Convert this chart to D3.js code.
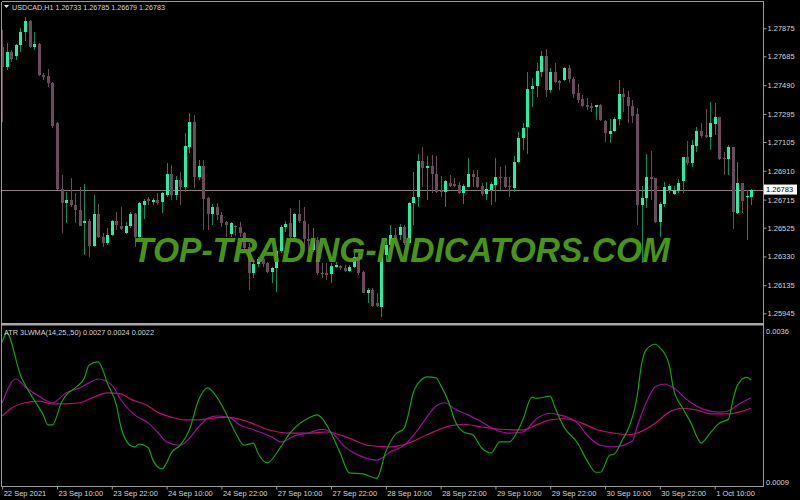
<!DOCTYPE html>
<html><head><meta charset="utf-8">
<script src="https://cdn.jsdelivr.net/npm/d3@7"></script>
<style>html,body{margin:0;padding:0;background:#000;overflow:hidden}svg{display:block}</style>
</head><body>
<svg id="chart" width="800" height="500"></svg>
<script>
// ---------- DATA ----------
const opens = [1.27749,1.27613,1.27714,1.27687,1.27762,1.27849,1.27924,1.27749,1.27769,1.27559,
 1.27552,1.27505,1.27234,1.26787,1.26692,1.26712,1.26678,1.26645,1.26557,1.26570,
 1.26400,1.26618,1.26462,1.26421,1.26475,1.26570,1.26536,1.26489,1.26536,1.26618,
 1.26462,1.26678,1.26719,1.26698,1.26712,1.26698,1.26746,1.26888,1.26746,1.26848,
 1.26801,1.27071,1.27240,1.26868,1.26942,1.26726,1.26618,1.26665,1.26611,1.26563,
 1.26482,1.26536,1.26529,1.26489,1.26394,1.26218,1.26279,1.26313,1.26286,1.26224,
 1.26252,1.26367,1.26529,1.26557,1.26462,1.26618,1.26570,1.26448,1.26374,1.26441,
 1.26218,1.26218,1.26211,1.26259,1.26265,1.26252,1.26231,1.26259,1.26327,1.26224,
 1.26083,1.26103,1.26015,1.25988,1.26340,1.26407,1.26475,1.26475,1.26529,1.26421,
 1.26692,1.26732,1.26976,1.26929,1.26942,1.26888,1.26773,1.26766,1.26828,1.26821,
 1.26814,1.26760,1.26801,1.26888,1.26868,1.26807,1.26753,1.26780,1.26814,1.26868,
 1.26868,1.26807,1.26794,1.26969,1.27132,1.27207,1.27464,1.27484,1.27579,1.27687,
 1.27457,1.27579,1.27518,1.27525,1.27606,1.27532,1.27437,1.27396,1.27355,1.27349,
 1.27342,1.27355,1.27247,1.27159,1.27179,1.27261,1.27430,1.27410,1.27349,1.27295,
 1.26678,1.26726,1.26868,1.26861,1.26563,1.26685,1.26780,1.26753,1.26773,1.26841,
 1.27003,1.26963,1.27078,1.27179,1.27152,1.27139,1.27227,1.27274,1.26997,1.26990,
 1.27071,1.26625,1.26828,1.26732,1.26733];
const highs = [1.27863,1.27776,1.27728,1.27769,1.27877,1.27952,1.27931,1.27849,1.27776,1.27573,
 1.27599,1.27511,1.27240,1.26881,1.26766,1.26861,1.26760,1.26801,1.26821,1.26584,
 1.26746,1.26685,1.26489,1.26523,1.26577,1.26631,1.26665,1.26563,1.26631,1.26625,
 1.26698,1.26719,1.26732,1.26726,1.26760,1.26766,1.26963,1.26949,1.26875,1.26902,
 1.27166,1.27302,1.27288,1.26983,1.26983,1.26732,1.26685,1.26692,1.26631,1.26570,
 1.26563,1.26543,1.26563,1.26496,1.26421,1.26306,1.26327,1.26327,1.26292,1.26259,
 1.26374,1.26543,1.26570,1.26658,1.26625,1.26712,1.26665,1.26550,1.26523,1.26462,
 1.26286,1.26286,1.26286,1.26292,1.26272,1.26272,1.26272,1.26360,1.26354,1.26231,
 1.26116,1.26116,1.26083,1.26360,1.26455,1.26543,1.26523,1.26550,1.26543,1.26698,
 1.26902,1.27024,1.27071,1.27010,1.27017,1.27010,1.26875,1.26848,1.26881,1.26861,
 1.26834,1.26821,1.26997,1.26915,1.26915,1.26828,1.26834,1.26834,1.26997,1.26935,
 1.26949,1.26868,1.27010,1.27173,1.27234,1.27579,1.27538,1.27640,1.27721,1.27735,
 1.27606,1.27640,1.27525,1.27613,1.27626,1.27546,1.27498,1.27423,1.27403,1.27369,
 1.27355,1.27362,1.27254,1.27261,1.27274,1.27525,1.27471,1.27450,1.27389,1.27335,
 1.26807,1.27024,1.27044,1.26861,1.26698,1.26834,1.26821,1.26807,1.26855,1.27003,
 1.27112,1.27119,1.27207,1.27234,1.27328,1.27376,1.27369,1.27274,1.27037,1.27085,
 1.27071,1.26969,1.26828,1.26780,1.26785];
const lows = [1.27240,1.27593,1.27646,1.27660,1.27714,1.27789,1.27742,1.27728,1.27552,1.27525,
 1.27478,1.27200,1.26780,1.26489,1.26557,1.26665,1.26557,1.26536,1.26340,1.26327,
 1.26394,1.26455,1.26394,1.26407,1.26468,1.26509,1.26509,1.26482,1.26523,1.26394,
 1.26455,1.26584,1.26678,1.26678,1.26678,1.26625,1.26732,1.26712,1.26712,1.26678,
 1.26766,1.27031,1.26794,1.26848,1.26509,1.26509,1.26543,1.26577,1.26529,1.26462,
 1.26462,1.26468,1.26462,1.26374,1.26103,1.26184,1.26259,1.26259,1.26218,1.26150,
 1.26089,1.26354,1.26496,1.26441,1.26441,1.26557,1.26394,1.26360,1.26360,1.26204,
 1.26184,1.26170,1.26150,1.26252,1.26238,1.26224,1.26224,1.26252,1.26204,1.26083,
 1.26015,1.25988,1.25988,1.25920,1.26292,1.26374,1.26400,1.26441,1.26407,1.26421,
 1.26543,1.26665,1.26801,1.26712,1.26760,1.26760,1.26732,1.26665,1.26801,1.26801,
 1.26753,1.26685,1.26801,1.26801,1.26794,1.26739,1.26712,1.26678,1.26698,1.26780,
 1.26794,1.26732,1.26766,1.26963,1.27051,1.27024,1.27342,1.27410,1.27546,1.27410,
 1.27437,1.27505,1.27457,1.27518,1.27505,1.27403,1.27369,1.27342,1.27322,1.27308,
 1.27254,1.27247,1.27105,1.27098,1.27173,1.27220,1.27308,1.27234,1.27234,1.26543,
 1.26286,1.26658,1.26712,1.26557,1.26462,1.26665,1.26760,1.26746,1.26760,1.26760,
 1.26949,1.26935,1.27037,1.27132,1.27132,1.27051,1.27152,1.26983,1.26881,1.26881,
 1.26516,1.26618,1.26625,1.26441,1.26679];
const closes = [1.27613,1.27714,1.27667,1.27762,1.27849,1.27924,1.27749,1.27769,1.27559,1.27546,
 1.27505,1.27213,1.26787,1.26692,1.26712,1.26678,1.26645,1.26536,1.26570,1.26400,
 1.26618,1.26462,1.26421,1.26475,1.26570,1.26543,1.26516,1.26536,1.26618,1.26462,
 1.26692,1.26705,1.26705,1.26712,1.26692,1.26760,1.26888,1.26746,1.26848,1.26801,
 1.27078,1.27240,1.26868,1.26942,1.26719,1.26618,1.26665,1.26611,1.26557,1.26543,
 1.26557,1.26529,1.26489,1.26387,1.26218,1.26279,1.26313,1.26279,1.26224,1.26252,
 1.26367,1.26529,1.26550,1.26462,1.26618,1.26570,1.26448,1.26434,1.26441,1.26218,
 1.26211,1.26204,1.26265,1.26272,1.26252,1.26231,1.26259,1.26327,1.26218,1.26083,
 1.26103,1.25994,1.25994,1.26340,1.26407,1.26475,1.26441,1.26529,1.26421,1.26692,
 1.26732,1.26976,1.26929,1.26942,1.26888,1.26766,1.26766,1.26841,1.26807,1.26807,
 1.26760,1.26807,1.26888,1.26868,1.26801,1.26753,1.26787,1.26821,1.26868,1.26861,
 1.26801,1.26801,1.26969,1.27132,1.27200,1.27464,1.27484,1.27586,1.27687,1.27457,
 1.27579,1.27511,1.27505,1.27606,1.27532,1.27430,1.27389,1.27349,1.27342,1.27335,
 1.27355,1.27254,1.27166,1.27179,1.27261,1.27430,1.27410,1.27349,1.27281,1.26678,
 1.26726,1.26868,1.26855,1.26563,1.26685,1.26801,1.26807,1.26780,1.26828,1.27003,
 1.26963,1.27085,1.27179,1.27146,1.27139,1.27234,1.27274,1.26990,1.26990,1.27071,
 1.26631,1.26828,1.26705,1.26739,1.26783];

const timeLabelBars = [0,12,24,36,48,60,72,84,96,108,120,132,144,156];
const timeLabels = ["22 Sep 2021","23 Sep 10:00","23 Sep 22:00","24 Sep 10:00","24 Sep 22:00",
 "27 Sep 10:00","27 Sep 22:00","28 Sep 10:00","28 Sep 22:00","29 Sep 10:00","29 Sep 22:00",
 "30 Sep 10:00","30 Sep 22:00","1 Oct 10:00"];
const priceTicks = [1.27875,1.27685,1.27490,1.27295,1.27105,1.26910,1.26715,1.26525,1.26330,1.26135,1.25945];
const lastPrice = 1.26783;
const indTicks = [0.0036, 0.0009];

// ATR LWMA lines: [bar index, value]
const atr14 = [[0,.00340],[1,.00356],[4,.00280],[7,.00235],[9,.00208],[10,.00190],[11,.00190],[13,.00231],[14,.00244],[16,.00257],[18,.00275],[19,.00298],[21,.00304],[22,.00290],[23,.00266],[25,.00226],[26,.00186],[28,.00153],[29,.00150],[30,.00155],[32,.00148],[33,.00126],[35,.00110],[36,.00121],[37,.00139],[39,.00153],[41,.00181],[43,.00235],[45,.00257],[47,.00240],[49,.00211],[51,.00177],[53,.00153],[55,.00157],[56,.00139],[58,.00121],[61,.00150],[63,.00175],[67,.00202],[69,.00208],[70,.00202],[72,.00175],[74,.00139],[76,.00103],[79,.00101],[82,.00093],[84,.00141],[86,.00172],[88,.00184],[89,.00211],[90,.00248],[92,.00273],[93,.00277],[95,.00275],[96,.00262],[98,.00226],[99,.00200],[101,.00177],[103,.00172],[105,.00148],[107,.00139],[109,.00159],[111,.00159],[113,.00181],[114,.00199],[116,.00240],[117,.00238],[120,.00242],[121,.00222],[123,.00186],[126,.00157],[128,.00126],[130,.00104],[131,.00104],[133,.00135],[134,.00137],[136,.00166],[137,.00181],[139,.00240],[140,.00300],[141,.00326],[143,.00336],[144,.00330],[146,.00300],[147,.00255],[149,.00220],[151,.00190],[152,.00170],[153,.00157],[155,.00175],[157,.00193],[159,.00200],[160,.00235],[161,.00262],[163,.00276],[164,.00271]];
const atr25 = [[0,.00230],[3,.00273],[5,.00259],[8,.00242],[11,.00230],[14,.00248],[17,.00257],[19,.00266],[21,.00273],[24,.00262],[26,.00235],[29,.00208],[32,.00193],[34,.00177],[36,.00159],[39,.00153],[41,.00166],[43,.00186],[45,.00202],[47,.00206],[50,.00202],[52,.00190],[55,.00181],[59,.00168],[61,.00159],[64,.00170],[67,.00175],[70,.00182],[72,.00177],[75,.00150],[78,.00135],[82,.00126],[85,.00141],[88,.00153],[91,.00181],[93,.00204],[95,.00224],[97,.00230],[99,.00219],[102,.00208],[105,.00195],[108,.00181],[111,.00175],[114,.00177],[117,.00201],[120,.00211],[122,.00208],[126,.00193],[128,.00172],[131,.00153],[134,.00150],[138,.00161],[139,.00186],[141,.00230],[143,.00259],[145,.00264],[147,.00257],[150,.00235],[154,.00217],[157,.00213],[159,.00215],[161,.00226],[164,.00239]];
const atr50 = [[0,.00206],[2,.00220],[5,.00230],[8,.00233],[11,.00228],[14,.00228],[17,.00230],[20,.00240],[23,.00248],[26,.00246],[28,.00237],[32,.00224],[34,.00213],[37,.00204],[40,.00199],[43,.00199],[46,.00202],[49,.00204],[51,.00202],[54,.00195],[58,.00182],[63,.00175],[67,.00175],[71,.00177],[76,.00166],[80,.00153],[85,.00150],[89,.00157],[93,.00172],[98,.00188],[101,.00191],[105,.00186],[109,.00182],[114,.00181],[117,.00190],[120,.00199],[123,.00201],[127,.00193],[130,.00182],[134,.00175],[137,.00172],[139,.00175],[143,.00193],[146,.00213],[149,.00220],[152,.00217],[155,.00210],[159,.00210],[164,.00220]];

// ---------- DRAW ----------
const svg = d3.select("#chart");
svg.append("rect").attr("width",800).attr("height",500).attr("fill","#000");
const FONT = "Liberation Sans, Arial, sans-serif";
const TXT = "#d4d4d4";
const FRAME = "#9a9a9a";

const x = d3.scaleLinear().domain([0,164]).range([2.2,751.2]);
const y = d3.scaleLinear().domain([1.25945,1.27875]).range([313.3,28.3]);
const yi = d3.scaleLinear().domain([0.0009,0.0036]).range([480,331]);

const bars = d3.range(opens.length).map(i => ({i, o:opens[i], h:highs[i], l:lows[i], c:closes[i]}));

const main = svg.append("g").attr("clip-path","url(#clipMain)");
svg.append("clipPath").attr("id","clipMain").append("rect").attr("x",2).attr("y",2).attr("width",761).attr("height",321);

// current price line
main.append("line").attr("x1",2).attr("x2",763).attr("y1",Math.round(y(lastPrice))+0.5).attr("y2",Math.round(y(lastPrice))+0.5)
  .attr("stroke","#8a7e84").attr("stroke-width",1);

const UPB = "#22f0a2", UPW = "#0f8a5c", DN = "#6b4a5b";
const cg = main.append("g").attr("shape-rendering","crispEdges");
cg.selectAll("line.w").data(bars).join("line").attr("class","w")
  .attr("x1",d=>Math.round(x(d.i))+0.5).attr("x2",d=>Math.round(x(d.i))+0.5)
  .attr("y1",d=>y(d.h)).attr("y2",d=>y(d.l))
  .attr("stroke",d=>d.c>d.o?UPW:DN).attr("stroke-width",1);
cg.selectAll("rect.b").data(bars).join("rect").attr("class","b")
  .attr("x",d=>Math.round(x(d.i))-1).attr("width",3)
  .attr("y",d=>y(Math.max(d.o,d.c))).attr("height",d=>Math.max(1,Math.abs(y(d.o)-y(d.c))))
  .attr("fill",d=>d.c>d.o?UPB:DN);

// watermark
svg.append("text").attr("x",133).attr("y",262).attr("textLength",537).attr("lengthAdjust","spacingAndGlyphs")
  .attr("font-family","Liberation Sans, Arial, sans-serif").attr("font-weight","bold").attr("font-style","italic")
  .attr("font-size",35).attr("fill","#4b9c18").attr("opacity",0.95).text("TOP-TRADING-INDICATORS.COM");

// indicator lines
const ind = svg.append("g").attr("clip-path","url(#clipInd)");
svg.append("clipPath").attr("id","clipInd").append("rect").attr("x",2).attr("y",326).attr("width",761).attr("height",159);
const line = d3.line().x(d=>x(d[0])).y(d=>yi(d[1])).curve(d3.curveMonotoneX);
[[atr50,"#c0106e"],[atr25,"#9c109c"],[atr14,"#14a014"]].forEach(([data,col])=>{
  ind.append("path").attr("d",line(data)).attr("fill","none").attr("stroke",col).attr("stroke-width",1.2);
});

// frames
const fr = svg.append("g").attr("stroke",FRAME).attr("fill","none").attr("shape-rendering","crispEdges");
fr.append("line").attr("x1",1.5).attr("x2",763.5).attr("y1",1.5).attr("y2",1.5);
fr.append("line").attr("x1",1.5).attr("x2",1.5).attr("y1",1.5).attr("y2",486.5);
fr.append("line").attr("x1",763.5).attr("x2",763.5).attr("y1",1.5).attr("y2",486.5);
fr.append("line").attr("x1",1.5).attr("x2",763.5).attr("y1",486.5).attr("y2",486.5);
svg.append("rect").attr("x",1).attr("y",323).attr("width",763).attr("height",2.5).attr("fill","#a8a8a8");

// price axis
const pAxis = d3.axisRight(y).tickValues(priceTicks).tickSize(3).tickPadding(1).tickFormat(d3.format(".5f"));
const pg = svg.append("g").attr("transform","translate(763.5,0)").call(pAxis);
pg.select(".domain").remove();
pg.selectAll("line").attr("stroke",FRAME);
pg.selectAll("text").attr("fill",TXT).attr("font-family",FONT).attr("font-size",7.5);

// current price label
svg.append("rect").attr("x",764).attr("y",y(lastPrice)-5).attr("width",33).attr("height",10).attr("fill","#ffffff");
svg.append("text").attr("x",766).attr("y",y(lastPrice)).attr("dy","0.35em").attr("fill","#000")
  .attr("font-family",FONT).attr("font-size",7.5).text(d3.format(".5f")(lastPrice));

// indicator axis labels
svg.append("text").attr("x",766).attr("y",333.5).attr("fill",TXT).attr("font-family",FONT).attr("font-size",7.5).text(d3.format(".4f")(indTicks[0]));
svg.append("text").attr("x",766).attr("y",485).attr("fill",TXT).attr("font-family",FONT).attr("font-size",7.5).text(d3.format(".4f")(indTicks[1]));

// time axis
const tAxis = d3.axisBottom(x).tickValues(timeLabelBars).tickSize(3).tickFormat((d,k)=>timeLabels[k]);
const tg = svg.append("g").attr("transform","translate(0,486.5)").call(tAxis);
tg.select(".domain").remove();
tg.selectAll("line").attr("stroke",FRAME);
tg.selectAll("text").attr("fill",TXT).attr("font-family",FONT).attr("font-size",7.5)
  .attr("text-anchor","start").attr("dx",1).attr("y",4).attr("dy","0.71em");

// titles
svg.append("path").attr("d","M4,5 L9,5 L6.5,8 Z").attr("fill","#e0e0e0");
svg.append("text").attr("x",12).attr("y",9.5).attr("fill",TXT).attr("font-family",FONT).attr("font-size",7.5)
  .attr("textLength",153).attr("lengthAdjust","spacingAndGlyphs")
  .text("USDCAD,H1  1.26733 1.26785 1.26679 1.26783");
svg.append("text").attr("x",4).attr("y",335).attr("fill",TXT).attr("font-family",FONT).attr("font-size",7.5)
  .attr("textLength",150).attr("lengthAdjust","spacingAndGlyphs")
  .text("ATR 3LWMA(14,25,,50) 0.0027 0.0024 0.0022");
</script>
</body></html>
